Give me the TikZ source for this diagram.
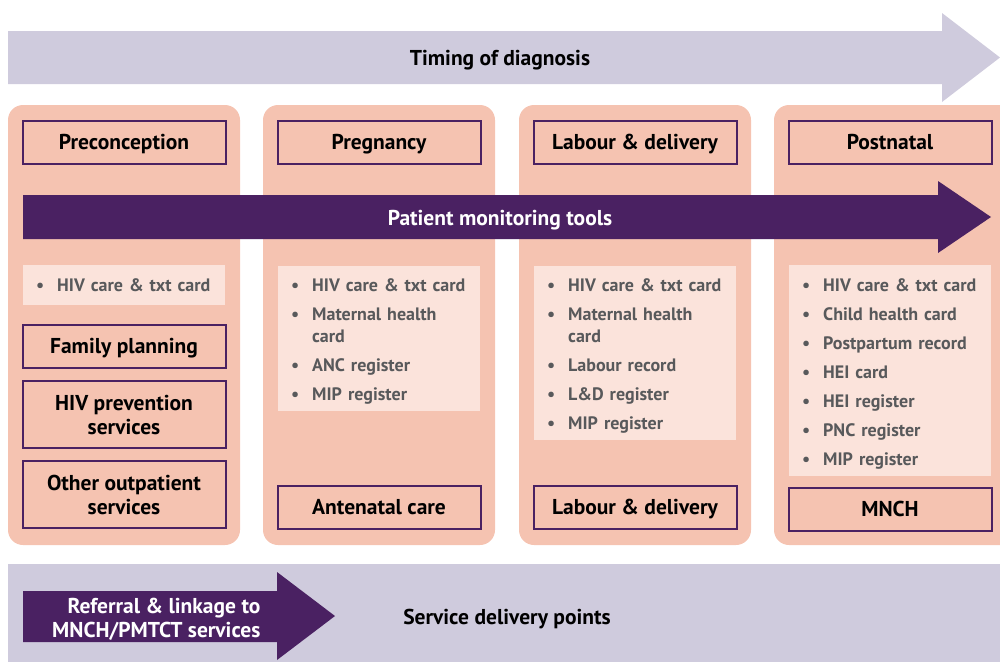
\documentclass[tikz,border=0pt]{standalone}
\usepackage{fontspec}
\setmainfont{PT Sans}
\definecolor{lavender}{HTML}{CFCBDD}
\definecolor{salmon}{HTML}{F5C3B1}
\definecolor{blush}{HTML}{FBE3DB}
\definecolor{plum}{HTML}{4A2162}
\definecolor{slate}{HTML}{58595B}
\newcommand{\bul}{\makebox[21pt][l]{\textbullet}}
\newcommand{\nobul}{\hspace*{21pt}}
\tikzset{
	column/.style={fill=salmon,rounded corners=15pt},
	stage/.style={draw=plum,line width=2pt,fill=salmon,minimum width=203pt,minimum height=43pt,inner sep=0pt,text depth=0pt,align=center,font=\bfseries\fontsize{21.5}{24}\selectfont},
	tools/.style={fill=blush,text=slate,text width=176pt,inner xsep=13pt,inner ysep=0pt,align=left,font=\bfseries\fontsize{18}{22}\selectfont},
	banner/.style={text depth=0pt,font=\bfseries\fontsize{21.5}{24}\selectfont}
}
\begin{document}
\begin{tikzpicture}[x=1pt,y=-1pt]
	\useasboundingbox (0,0) rectangle (1000,662);
	\fill[lavender] (8,31) -- (942,31) -- (942,13) -- (1000,57.5) -- (942,102) -- (942,84) -- (8,84) -- cycle;
	\node[banner] (timing) at (500,58) {Timing of diagnosis};

	\fill[column] (8,105) rectangle (240,545);
	\fill[column] (263,105) rectangle (495,545);
	\fill[column] (519,105) rectangle (751,545);
	\fill[column] (774,105) rectangle (1016,545);

	\node[stage] (preconception) at (124,142) {Preconception};
	\node[stage] (pregnancy) at (379,142) {Pregnancy};
	\node[stage] (labour) at (635,142) {Labour \& delivery};
	\node[stage] (postnatal) at (890,142) {Postnatal};

	\fill[plum] (23,195) -- (938,195) -- (938,181) -- (991,217) -- (938,253) -- (938,239) -- (23,239) -- cycle;
	\node[banner,text=white] (monitoring) at (500,218) {Patient monitoring tools};

	\fill[blush] (23,265) rectangle (225,305);
	\fill[blush] (278,266) rectangle (480,411);
	\fill[blush] (534,266) rectangle (736,440);
	\fill[blush] (789,265) rectangle (991,476);
	\node[tools,anchor=north west] (tools1) at (23,278) {\bul HIV care \& txt card};
	\node[tools,anchor=north west] (tools2) at (278,278) {\bul HIV care \& txt card\\[7pt]
		\bul Maternal health\\ \nobul card\\[7pt]
		\bul ANC register\\[7pt]
		\bul MIP register};
	\node[tools,anchor=north west] (tools3) at (534,278) {\bul HIV care \& txt card\\[7pt]
		\bul Maternal health\\ \nobul card\\[7pt]
		\bul Labour record\\[7pt]
		\bul L\&D register\\[7pt]
		\bul MIP register};
	\node[tools,anchor=north west] (tools4) at (789,278) {\bul HIV care \& txt card\\[7pt]
		\bul Child health card\\[7pt]
		\bul Postpartum record\\[7pt]
		\bul HEI card\\[7pt]
		\bul HEI register\\[7pt]
		\bul PNC register\\[7pt]
		\bul MIP register};

	\node[stage] (familyplanning) at (124,346) {Family planning};
	\node[stage,minimum height=67pt] (prevention) at (124,414.5) {HIV prevention\\services};
	\node[stage,minimum height=67pt] (outpatient) at (124,494.5) {Other outpatient\\services};
	\node[stage] (antenatal) at (379,507) {Antenatal care};
	\node[stage] (delivery) at (635,507) {Labour \& delivery};
	\node[stage] (mnch) at (890,509) {MNCH};

	\fill[lavender] (8,564) rectangle (1000,662);
	\fill[plum] (23,591) -- (277,591) -- (277,572) -- (335,616) -- (277,660) -- (277,642) -- (23,642) -- cycle;
	\node[banner,text=white,align=right,anchor=east] (referral) at (264,618) {Referral \& linkage to\\MNCH/PMTCT services};
	\node[banner] (servicepoints) at (507,617) {Service delivery points};
\end{tikzpicture}
\end{document}
